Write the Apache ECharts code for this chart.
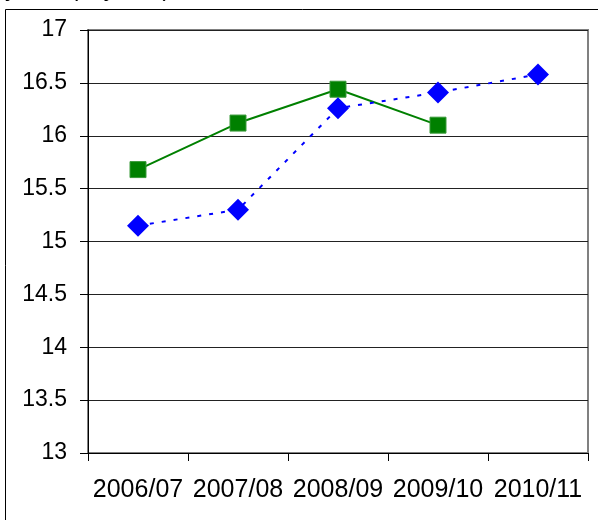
<!DOCTYPE html>
<html>
<head>
<meta charset="utf-8">
<script src="https://cdn.jsdelivr.net/npm/echarts@6/dist/echarts.min.js"></script>
<style>
  html, body { margin: 0; padding: 0; background: #fff; }
  #chart { width: 598px; height: 520px; }
</style>
</head>
<body>
<div id="chart"></div>
<script>
// Season labels along the category axis
const seasons = ['2006/07', '2007/08', '2008/09', '2009/10', '2010/11'];
// Green series (squares, solid line); no value for the last season
const greenValues = [15.68, 16.12, 16.44, 16.10, null];
// Blue series (diamonds, dotted line)
const blueValues = [15.15, 15.30, 16.26, 16.41, 16.58];
// Value axis range
const yMin = 13;
const yMax = 17;
const yStep = 0.5;

const chart = echarts.init(document.getElementById('chart'), null, { renderer: 'canvas' });

chart.setOption({
  animation: false,
  backgroundColor: '#fff',
  textStyle: { fontFamily: 'Liberation Sans, Arial, sans-serif' },
  graphic: [
    {
      type: 'rect',
      shape: { x: 5.5, y: 9.5, width: 700, height: 600 },
      style: { fill: 'none', stroke: '#000', lineWidth: 1 },
      z: 0
    },
    {
      type: 'text',
      left: 5,
      top: -23,
      style: {
        text: 'years (in years)',
        font: '24px "Liberation Sans", Arial, sans-serif',
        fill: '#000'
      }
    }
  ],
  grid: {
    left: 88, right: 10, top: 30, bottom: 67,
    show: true,
    borderColor: '#808080',
    borderWidth: 2,
    backgroundColor: '#fff'
  },
  xAxis: {
    type: 'category',
    data: seasons,
    boundaryGap: true,
    axisLine: { lineStyle: { color: '#000', width: 1 } },
    axisTick: { show: true, length: 8, inside: false, alignWithLabel: false, lineStyle: { color: '#000' } },
    axisLabel: { color: '#000', fontSize: 25, margin: 25, interval: 0 },
    splitLine: { show: false }
  },
  yAxis: {
    type: 'value',
    min: yMin,
    max: yMax,
    interval: yStep,
    axisLine: { show: true, lineStyle: { color: '#000', width: 1 } },
    axisTick: { show: true, length: 8, lineStyle: { color: '#000' } },
    axisLabel: { color: '#000', fontSize: 23, margin: 21 },
    splitLine: { show: true, lineStyle: { color: '#222', width: 1 } }
  },
  series: [
    {
      type: 'line',
      data: greenValues,
      connectNulls: false,
      symbol: 'rect',
      symbolSize: 16,
      itemStyle: { color: '#008000', borderColor: '#3a9a3a', borderWidth: 1 },
      lineStyle: { color: '#008000', width: 2 },
      z: 3
    },
    {
      type: 'line',
      data: blueValues,
      symbol: 'diamond',
      symbolSize: 22,
      itemStyle: { color: '#0000ff' },
      lineStyle: { color: '#0000ff', width: 2, type: [4, 8] },
      z: 4
    }
  ]
});
</script>
</body>
</html>
